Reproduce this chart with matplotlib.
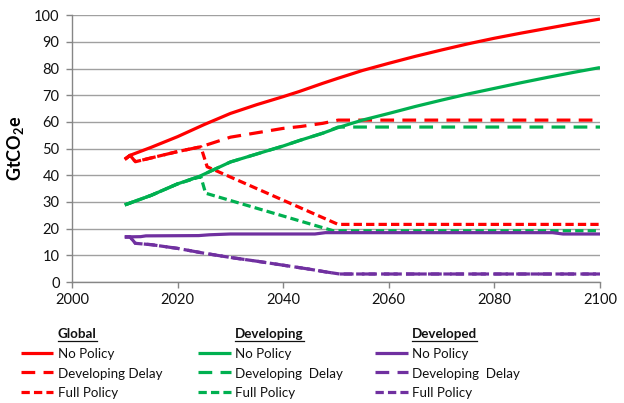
import matplotlib
matplotlib.use("Agg")
import matplotlib.pyplot as plt
from matplotlib.lines import Line2D

plt.rcParams['font.family'] = ['Lato', 'DejaVu Sans']
plt.rcParams['mathtext.fontset'] = 'custom'
plt.rcParams['mathtext.rm'] = 'Lato'
plt.rcParams['mathtext.bf'] = 'Lato:bold'

RED = '#FF0000'
GREEN = '#00B050'
PURPLE = '#7030A0'

# ---- data ----
glob_np_x = [2010, 2011, 2015, 2020, 2025, 2030, 2035, 2040, 2043, 2047.5, 2050.4, 2055, 2060, 2065, 2070, 2075, 2080, 2085, 2090, 2095, 2100]
glob_np_y = [46, 47.5, 50.5, 54.5, 59.0, 63.2, 66.5, 69.5, 71.4, 74.5, 76.4, 79.3, 82.0, 84.6, 87.0, 89.3, 91.4, 93.3, 95.1, 96.9, 98.6]

glob_dd_x = [2010, 2011, 2012, 2020, 2024.4, 2030, 2040, 2043.3, 2047.5, 2050.4, 2100]
glob_dd_y = [46, 47.5, 45.1, 48.9, 50.7, 54.3, 57.6, 58.3, 59.5, 60.7, 60.7]

glob_fp_x = [2010, 2011, 2012, 2020, 2024.4, 2025.6, 2050.4, 2100]
glob_fp_y = [46, 47.5, 45.1, 48.9, 50.7, 43.2, 21.6, 21.6]

dev_np_x = [2010, 2015, 2020, 2024, 2030, 2035, 2040, 2043.3, 2047.5, 2050.4, 2055, 2060, 2065, 2070, 2075, 2080, 2085, 2090, 2095, 2100]
dev_np_y = [28.9, 32.5, 36.8, 39.5, 45.0, 48.0, 51.0, 53.2, 55.8, 57.9, 60.7, 63.2, 65.8, 68.2, 70.5, 72.6, 74.7, 76.7, 78.6, 80.4]

dev_dd_x = [2010, 2015, 2020, 2024, 2030, 2035, 2040, 2043.3, 2047.5, 2050.4, 2100]
dev_dd_y = [28.9, 32.5, 36.8, 39.5, 45.0, 48.0, 51.0, 53.2, 55.8, 58.1, 58.1]

dev_fp_x = [2010, 2015, 2020, 2024.4, 2025.3, 2049.5, 2100]
dev_fp_y = [28.9, 32.5, 36.8, 39.5, 33.3, 19.2, 19.2]

dvd_np_x = [2010, 2013, 2014, 2024, 2026, 2030, 2046, 2048, 2091, 2093, 2100]
dvd_np_y = [16.9, 17.0, 17.3, 17.4, 17.7, 18.0, 18.0, 18.5, 18.5, 18.0, 18.0]

dvd_dd_x = [2010, 2011, 2012, 2015, 2020, 2025, 2030, 2035, 2040, 2045, 2048, 2050.7, 2100]
dvd_dd_y = [16.9, 16.9, 14.5, 14.0, 12.6, 10.8, 9.2, 7.8, 6.3, 4.8, 3.8, 3.0, 3.0]

dvd_fp_x = dvd_dd_x
dvd_fp_y = dvd_dd_y

x_ticks = [2000, 2020, 2040, 2060, 2080, 2100]
y_ticks = list(range(0, 101, 10))

# ---- figure ----
fig = plt.figure(figsize=(6.24, 4.03), dpi=100)
ax = fig.add_axes([72/624, 1-282/403, 528/624, (282-15.3)/403])

LW = 2.3
LONG = (0, (4.3, 2.6))
SHORT = (0, (2.6, 1.3))

series = [
    (glob_np_x, glob_np_y, RED, '-'),
    (glob_dd_x, glob_dd_y, RED, LONG),
    (glob_fp_x, glob_fp_y, RED, SHORT),
    (dev_np_x, dev_np_y, GREEN, '-'),
    (dev_dd_x, dev_dd_y, GREEN, LONG),
    (dev_fp_x, dev_fp_y, GREEN, SHORT),
    (dvd_np_x, dvd_np_y, PURPLE, '-'),
    (dvd_dd_x, dvd_dd_y, PURPLE, LONG),
    (dvd_fp_x, dvd_fp_y, PURPLE, SHORT),
]
for xs, ys, c, ls in series:
    ax.plot(xs, ys, color=c, lw=LW, linestyle=ls, dash_capstyle='butt', solid_capstyle='butt')

ax.set_xlim(2000, 2100)
ax.set_ylim(0, 100)
ax.set_xticks(x_ticks)
ax.set_yticks(y_ticks)
ax.yaxis.grid(True, color='#A0A0A0', lw=1.0)
ax.set_axisbelow(True)
for s in ['top', 'right']:
    ax.spines[s].set_visible(False)
for s in ['left', 'bottom']:
    ax.spines[s].set_color('#868686')
    ax.spines[s].set_linewidth(1.0)
ax.tick_params(axis='both', colors='#868686', labelcolor='#111111', labelsize=10.5, length=4, width=1.0)
ax.tick_params(axis='y', pad=5)
ax.tick_params(axis='x', pad=4)
ax.set_ylabel(r'$\mathbf{GtCO_2e}$', fontsize=13, fontweight='bold')
ax.yaxis.set_label_coords((26-72)/528, 0.5)

# ---- legend (manual) ----
W, H = 624, 403
def fx(x):
    return x / W
def fy(y):
    return 1 - y / H

cols = [
    ('Global', RED, 20.7, 58),
    ('Developing', GREEN, 198, 235),
    ('Developed', PURPLE, 375, 411.7),
]
labels = {
    'Global': ['No Policy', 'Developing Delay', 'Full Policy'],
    'Developing': ['No Policy', 'Developing  Delay', 'Full Policy'],
    'Developed': ['No Policy', 'Developing  Delay', 'Full Policy'],
}
row_y = [352.7, 372.0, 391.7]
row_base = [358.3, 377.7, 397.3]
styles = ['-', LONG, SHORT]
LFS = 9.6
titles = []
for title, c, hx, tx in cols:
    t = fig.text(fx(tx), fy(337.7), title, fontsize=LFS, fontweight='bold', va='baseline', ha='left', color='#111111')
    titles.append(t)
    for i in range(3):
        fig.add_artist(Line2D([fx(hx), fx(hx + 32.5)], [fy(row_y[i]), fy(row_y[i])],
                              color=c, lw=LW, linestyle=styles[i], dash_capstyle='butt',
                              solid_capstyle='butt', transform=fig.transFigure))
        fig.text(fx(tx), fy(row_base[i]), labels[title][i], fontsize=LFS, va='baseline', ha='left', color='#111111')

fig.canvas.draw()
r = fig.canvas.get_renderer()
for t in titles:
    bb = t.get_window_extent(r)
    yl = fy(340.5)
    fig.add_artist(Line2D([bb.x0 / fig.bbox.width, bb.x1 / fig.bbox.width], [yl, yl],
                          color='#111111', lw=0.9, transform=fig.transFigure))

fig.savefig('out.png', dpi=100)
